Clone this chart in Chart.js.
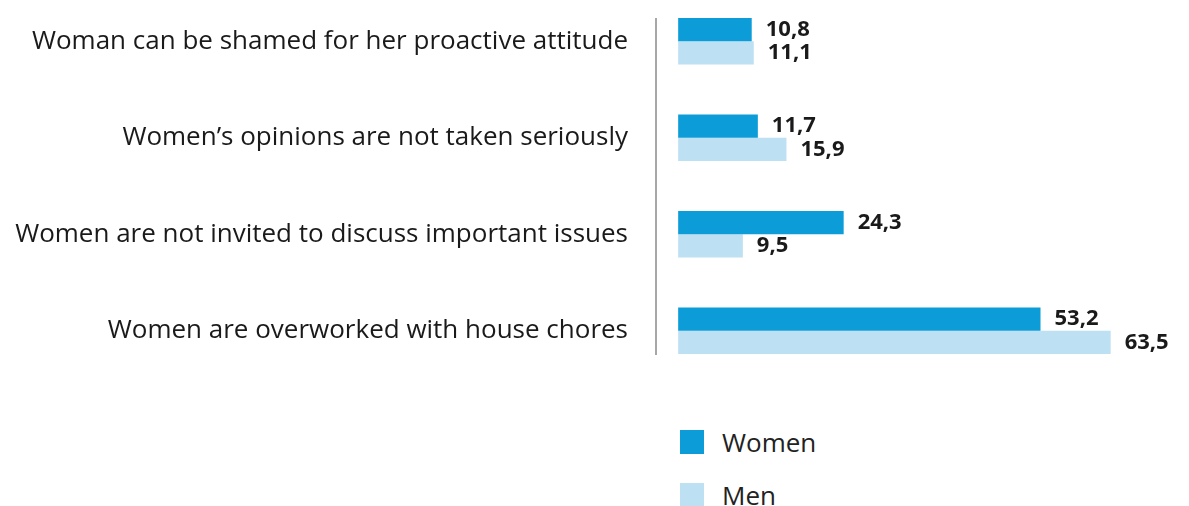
<!DOCTYPE html>
<html>
<head>
<meta charset="utf-8">
<script src="https://cdn.jsdelivr.net/npm/chart.js@4"></script>
<style>
  html, body { margin: 0; padding: 0; background: #fff; }
  body { width: 1189px; height: 506px; position: relative; overflow: hidden; font-family: "Open Sans", sans-serif; }
  #wrap { position: absolute; left: 0; top: -7px; width: 1189px; height: 386px; }
  #legend { position: absolute; left: 680px; top: 430px; }
  .item { display: flex; align-items: center; height: 24px; margin-bottom: 29px; font-size: 26px; color: #222; }
  .box { width: 24px; height: 24px; margin-right: 18px; }
</style>
</head>
<body>
<div id="wrap"><canvas id="chart"></canvas></div>
<div id="legend"></div>
<script>
// data
const categories = [
  "Woman can be shamed for her proactive attitude",
  "Women\u2019s opinions are not taken seriously",
  "Women are not invited to discuss important issues",
  "Women are overworked with house chores",
];
const seriesNames = ["Women", "Men"];
const women = [10.8, 11.7, 24.3, 53.2];
const men = [11.1, 15.9, 9.5, 63.5];

const colors = ["#0c9dd8", "#bde0f3"];

// vertical line next to the labels, from first bar to last bar
const axisLine = {
  id: "axisLine",
  afterDatasetsDraw(chart) {
    const first = chart.getDatasetMeta(0).data[0];
    const last = chart.getDatasetMeta(1).data[categories.length - 1];
    const ctx = chart.ctx;
    const x = chart.chartArea.left + 1;
    ctx.save();
    ctx.strokeStyle = "#8a8a8a";
    ctx.lineWidth = 1.5;
    ctx.beginPath();
    ctx.moveTo(x, first.y - first.height / 2);
    ctx.lineTo(x, last.y + last.height / 2 + 1);
    ctx.stroke();
    ctx.restore();
  },
};

// value labels to the right of each bar
const valueLabels = {
  id: "valueLabels",
  afterDatasetsDraw(chart) {
    const ctx = chart.ctx;
    ctx.save();
    ctx.font = "bold 22px 'Open Sans'";
    ctx.fillStyle = "#1a1a1a";
    ctx.textAlign = "left";
    ctx.textBaseline = "middle";
    chart.data.datasets.forEach((ds, i) => {
      chart.getDatasetMeta(i).data.forEach((bar, j) => {
        const txt = ds.data[j].toFixed(1).replace(".", ",");
        ctx.fillText(txt, bar.x + 14, bar.y);
      });
    });
    ctx.restore();
  },
};

const chart = new Chart(document.getElementById("chart"), {
  type: "bar",
  data: {
    labels: categories,
    datasets: [
      { label: seriesNames[0], data: women, backgroundColor: colors[0] },
      { label: seriesNames[1], data: men, backgroundColor: colors[1] },
    ],
  },
  options: {
    indexAxis: "y",
    responsive: true,
    maintainAspectRatio: false,
    animation: false,
    layout: { padding: 0 },
    datasets: {
      bar: { barPercentage: 1, categoryPercentage: 0.48, borderWidth: 0 },
    },
    scales: {
      x: { display: false, min: -3.4, max: 75 },
      y: {
        border: { display: false },
        grid: { display: false, drawTicks: false },
        ticks: {
          padding: 27,
          color: "#1a1a1a",
          font: { family: "'Open Sans'", size: 26 },
        },
        afterFit(scale) {
          scale.width = 655;
          scale.paddingTop = 0;
          scale.paddingBottom = 0;
        },
      },
    },
    plugins: {
      legend: { display: false },
      tooltip: { enabled: false },
    },
  },
  plugins: [axisLine, valueLabels],
});

// legend as html, stacked
const legendEl = document.getElementById("legend");
chart.data.datasets.forEach((ds) => {
  const item = document.createElement("div");
  item.className = "item";
  const box = document.createElement("span");
  box.className = "box";
  box.style.background = ds.backgroundColor;
  item.appendChild(box);
  item.appendChild(document.createTextNode(ds.label));
  legendEl.appendChild(item);
});
</script>
</body>
</html>
